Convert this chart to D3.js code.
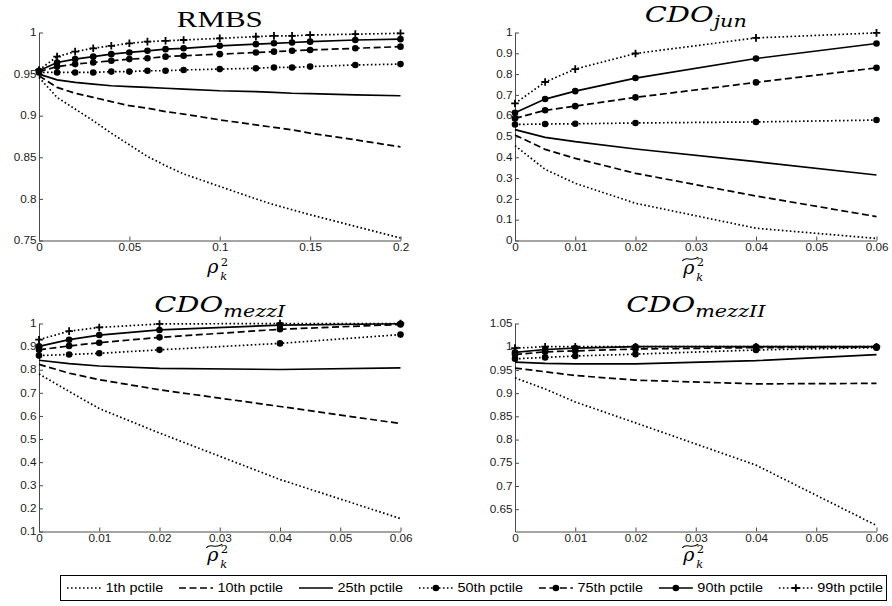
<!DOCTYPE html>
<html>
<head>
<meta charset="utf-8">
<script src="https://cdn.jsdelivr.net/npm/d3@7"></script>
<style>
  body { margin: 0; background: #fff; }
  svg { display: block; }
  .axis text { font-family: "Liberation Sans", Arial, sans-serif; font-size: 10px; fill: #1a1a1a; }
  .axis path, .axis line { stroke: #4a4a4a; stroke-width: 1; }
</style>
</head>
<body>
<div id="chart"></div>
<script>
// **** THE DATA ****

const pctiles = ["1th pctile", "10th pctile", "25th pctile", "50th pctile", "75th pctile", "90th pctile", "99th pctile"]

// RMBS panel: x grid and one row per percentile (1th ... 99th)
const rmbsX = [0, 0.01, 0.02, 0.03, 0.04, 0.05, 0.06, 0.07, 0.08, 0.1, 0.12, 0.13, 0.14, 0.15, 0.175, 0.2]
const rmbsY = [
  [0.946, 0.922, 0.908, 0.894, 0.879, 0.865, 0.851, 0.840, 0.830, 0.815, 0.800, 0.793, 0.787, 0.781, 0.767, 0.753],
  [0.948, 0.934, 0.927, 0.922, 0.917, 0.912, 0.909, 0.905, 0.902, 0.895, 0.889, 0.886, 0.883, 0.879, 0.871, 0.8625],
  [0.950, 0.943, 0.940, 0.938, 0.936, 0.935, 0.934, 0.933, 0.932, 0.930, 0.929, 0.928, 0.927, 0.9265, 0.925, 0.924],
  [0.952, 0.952, 0.952, 0.952, 0.953, 0.953, 0.954, 0.954, 0.955, 0.956, 0.957, 0.958, 0.958, 0.959, 0.961, 0.962],
  [0.953, 0.959, 0.962, 0.964, 0.966, 0.968, 0.969, 0.971, 0.972, 0.974, 0.976, 0.977, 0.978, 0.979, 0.981, 0.983],
  [0.954, 0.964, 0.968, 0.971, 0.974, 0.976, 0.978, 0.980, 0.981, 0.984, 0.986, 0.987, 0.988, 0.989, 0.991, 0.992],
  [0.955, 0.971, 0.977, 0.981, 0.984, 0.987, 0.989, 0.990, 0.991, 0.993, 0.995, 0.996, 0.996, 0.997, 0.998, 0.999]
]

// the three CDO panels share this x grid
const cdoX = [0, 0.005, 0.01, 0.02, 0.04, 0.06]

const junY = [
  [0.456, 0.342, 0.275, 0.179, 0.059, 0.010],
  [0.507, 0.438, 0.395, 0.323, 0.214, 0.115],
  [0.533, 0.496, 0.475, 0.440, 0.379, 0.315],
  [0.558, 0.560, 0.561, 0.565, 0.570, 0.579],
  [0.587, 0.626, 0.646, 0.688, 0.760, 0.830],
  [0.614, 0.680, 0.718, 0.781, 0.875, 0.947],
  [0.659, 0.762, 0.824, 0.899, 0.974, 0.998]
]

const mezzIY = [
  [0.782, 0.706, 0.632, 0.526, 0.325, 0.156],
  [0.823, 0.785, 0.757, 0.713, 0.641, 0.567],
  [0.841, 0.826, 0.816, 0.806, 0.801, 0.808],
  [0.861, 0.866, 0.871, 0.886, 0.914, 0.952],
  [0.886, 0.903, 0.917, 0.940, 0.975, 0.996],
  [0.901, 0.930, 0.950, 0.972, 0.993, 0.999],
  [0.930, 0.967, 0.983, 0.998, 1.000, 1.000]
]

const mezzIIY = [
  [0.933, 0.909, 0.881, 0.836, 0.745, 0.615],
  [0.954, 0.946, 0.938, 0.928, 0.920, 0.921],
  [0.967, 0.964, 0.963, 0.963, 0.970, 0.983],
  [0.974, 0.977, 0.980, 0.984, 0.993, 0.998],
  [0.983, 0.989, 0.991, 0.995, 0.998, 0.999],
  [0.988, 0.994, 0.997, 1.000, 1.000, 1.000],
  [0.997, 1.000, 1.000, 1.000, 1.000, 1.000]
]

// tick labels
const rmbsXTicks = [0, 0.05, 0.1, 0.15, 0.2]
const rmbsYTicks = [0.75, 0.8, 0.85, 0.9, 0.95, 1]
const cdoXTicks = [0, 0.01, 0.02, 0.03, 0.04, 0.05, 0.06]
const junYTicks = [0, 0.1, 0.2, 0.3, 0.4, 0.5, 0.6, 0.7, 0.8, 0.9, 1]
const mezzIYTicks = [0.1, 0.2, 0.3, 0.4, 0.5, 0.6, 0.7, 0.8, 0.9, 1]
const mezzIIYTicks = [0.65, 0.7, 0.75, 0.8, 0.85, 0.9, 0.95, 1, 1.05]

//------------------------------------------------------------------------------

// **** THE SETUP ****

const width = 892
const height = 606
const plotW = 361.5
const plotH = 208
const STRETCH = 1.17   // the exported figure is a bit wider than it is tall

// line style of each percentile, in the same order as pctiles
const styles = [
  { dash: "1.6 2.4", marker: null },
  { dash: "7 3.5", marker: null },
  { dash: null, marker: null },
  { dash: "1.6 2.4", marker: "circle" },
  { dash: "7 3.5", marker: "circle" },
  { dash: null, marker: "circle" },
  { dash: "1.6 2.4", marker: "plus" }
]

const panels = [
  { title: "RMBS", sub: null, xs: rmbsX, ys: rmbsY, xDomain: [0, 0.2], yDomain: [0.75, 1],
    xTicks: rmbsXTicks, yTicks: rmbsYTicks, left: 39, top: 32.5, tilde: false, labelGap: 32.5 },
  { title: "CDO", sub: "jun", xs: cdoX, ys: junY, xDomain: [0, 0.06], yDomain: [0, 1],
    xTicks: cdoXTicks, yTicks: junYTicks, left: 515, top: 32.5, tilde: true, labelGap: 33 },
  { title: "CDO", sub: "mezzI", xs: cdoX, ys: mezzIY, xDomain: [0, 0.06], yDomain: [0.1, 1],
    xTicks: cdoXTicks, yTicks: mezzIYTicks, left: 39, top: 323.5, tilde: true, labelGap: 29 },
  { title: "CDO", sub: "mezzII", xs: cdoX, ys: mezzIIY, xDomain: [0, 0.06], yDomain: [0.602, 1.05],
    xTicks: cdoXTicks, yTicks: mezzIIYTicks, left: 515, top: 323.5, tilde: true, labelGap: 29 }
]

// widen a text selection horizontally by factor k
function widen(sel, k) {
  sel.each(function () {
    const w = this.getComputedTextLength()
    d3.select(this).attr("textLength", w * k).attr("lengthAdjust", "spacingAndGlyphs")
  })
}

function styleLine(sel, st) {
  sel.attr("fill", "none")
    .attr("stroke", "#000")
    .attr("stroke-width", 1.7)
    .attr("stroke-dasharray", st.dash)
}

function drawMarker(g, kind, cx, cy) {
  if (kind === "circle") {
    g.append("circle").attr("cx", cx).attr("cy", cy).attr("r", 3.3).attr("fill", "#000")
  } else if (kind === "plus") {
    const p = d3.path()
    p.moveTo(cx - 3.8, cy); p.lineTo(cx + 3.8, cy)
    p.moveTo(cx, cy - 3.8); p.lineTo(cx, cy + 3.8)
    g.append("path").attr("d", p.toString()).attr("stroke", "#000").attr("stroke-width", 1.8)
  }
}

//------------------------------------------------------------------------------

// **** PUT IT ON THE PAGE ****

const svg = d3.select("#chart").append("svg")
    .attr("width", width)
    .attr("height", height)

svg.append("rect").attr("width", width).attr("height", height).attr("fill", "#fff")

panels.forEach((p) => {
  const g = svg.append("g").attr("transform", "translate(" + p.left + "," + p.top + ")")

  const xScale = d3.scaleLinear().domain(p.xDomain).range([0, plotW])
  const yScale = d3.scaleLinear().domain(p.yDomain).range([plotH, 0])

  // axes (MATLAB style: inward ticks, no box)
  const xg = g.append("g")
      .attr("class", "axis")
      .attr("transform", "translate(0," + plotH + ")")
      .call(d3.axisBottom(xScale).tickValues(p.xTicks).tickFormat(d3.format("~g"))
        .tickSizeInner(-4).tickSizeOuter(0).tickPadding(3))
  const yg = g.append("g")
      .attr("class", "axis")
      .call(d3.axisLeft(yScale).tickValues(p.yTicks).tickFormat(d3.format("~g"))
        .tickSizeInner(-4).tickSizeOuter(0).tickPadding(2.5))
  widen(xg.selectAll("text"), STRETCH)
  widen(yg.selectAll("text"), STRETCH)

  // lines, 1th first so that 99th sits on top
  const line = d3.line()
      .x((d, i) => xScale(p.xs[i]))
      .y((d) => yScale(d))

  p.ys.forEach((vals, s) => {
    const st = styles[s]
    g.append("path").datum(vals).attr("d", line).call(styleLine, st)
    if (st.marker) {
      vals.forEach((v, i) => drawMarker(g, st.marker, xScale(p.xs[i]), yScale(v)))
    }
  })

  // title
  const cx = plotW / 2
  if (!p.sub) {
    const t = g.append("text")
        .attr("x", cx).attr("y", -6)
        .attr("text-anchor", "middle")
        .style("font-family", "'Liberation Serif', 'Times New Roman', serif")
        .style("font-size", "24px")
        .text(p.title)
    widen(t, 86 / t.node().getComputedTextLength())
  } else {
    const baseY = p.top < 100 ? -10.5 : -11.5
    const t1 = g.append("text").attr("y", baseY)
        .style("font-family", "'DejaVu Serif', serif").style("font-style", "italic")
        .style("font-size", "23px").text(p.title)
    const k = 69 / t1.node().getComputedTextLength()
    t1.attr("textLength", 69).attr("lengthAdjust", "spacingAndGlyphs")
    const t2 = g.append("text").attr("y", baseY + 4.5)
        .style("font-family", "'DejaVu Serif', serif").style("font-style", "italic")
        .style("font-size", "16.5px").text(p.sub)
    const w2 = t2.node().getComputedTextLength() * k
    t2.attr("textLength", w2).attr("lengthAdjust", "spacingAndGlyphs")
    const x0 = cx - (69 + w2) / 2
    t1.attr("x", x0)
    t2.attr("x", x0 + 69)
  }

  // x label: rho_k^2, with a wide tilde on the CDO panels
  const by = plotH + p.labelGap
  const lab = g.append("g").style("font-family", "'DejaVu Serif', serif")
  lab.append("text").attr("x", cx - 12.5).attr("y", by)
      .style("font-style", "italic").style("font-size", "19px").text("ρ")
  lab.append("text").attr("x", cx + 1).attr("y", by - 7.5)
      .style("font-size", "11.5px").text("2")
  lab.append("text").attr("x", cx + 0.5).attr("y", by + 7)
      .style("font-style", "italic").style("font-size", "11.5px").text("k")
  if (p.tilde) {
    const ty = by - 14.5
    const tp = d3.path()
    tp.moveTo(cx - 13.5, ty + 1.8)
    tp.bezierCurveTo(cx - 9, ty - 3.5, cx - 5, ty + 3.5, cx + 2.5, ty - 1.8)
    lab.append("path").attr("d", tp.toString()).attr("fill", "none")
        .attr("stroke", "#000").attr("stroke-width", 1.1)
  }
})

// --> LEGEND

const legBox = { x0: 60, x1: 887, y0: 575, y1: 601 }
const legend = svg.append("g")

legend.append("rect")
    .attr("x", legBox.x0 + 0.5).attr("y", legBox.y0 + 0.5)
    .attr("width", legBox.x1 - legBox.x0 - 1).attr("height", legBox.y1 - legBox.y0 - 1)
    .attr("fill", "#fff").attr("stroke", "#000").attr("stroke-width", 1)

const sampleLen = 34
const sampleGap = 4.5
const legY = (legBox.y0 + legBox.y1) / 2

const labels = legend.selectAll(".leg-text")
    .data(pctiles)
  .enter().append("text")
    .attr("class", "leg-text")
    .attr("y", legY + 4.2)
    .style("font-family", "'Liberation Sans', Arial, sans-serif")
    .style("font-size", "12px")
    .text((d) => d)
widen(labels, 1.2)

const textW = []
labels.each(function () { textW.push(+d3.select(this).attr("textLength")) })
const inner = (legBox.x1 - 4) - (legBox.x0 + 7)
const used = d3.sum(textW) + pctiles.length * (sampleLen + sampleGap)
const itemGap = (inner - used) / (pctiles.length - 1)

let lx = legBox.x0 + 7
labels.each(function (d, i) {
  const st = styles[i]
  legend.append("line")
      .attr("x1", lx).attr("x2", lx + sampleLen)
      .attr("y1", legY).attr("y2", legY)
      .call(styleLine, st)
  if (st.marker) drawMarker(legend, st.marker, lx + sampleLen / 2, legY)
  d3.select(this).attr("x", lx + sampleLen + sampleGap)
  lx += sampleLen + sampleGap + textW[i] + itemGap
})
</script>
</body>
</html>
